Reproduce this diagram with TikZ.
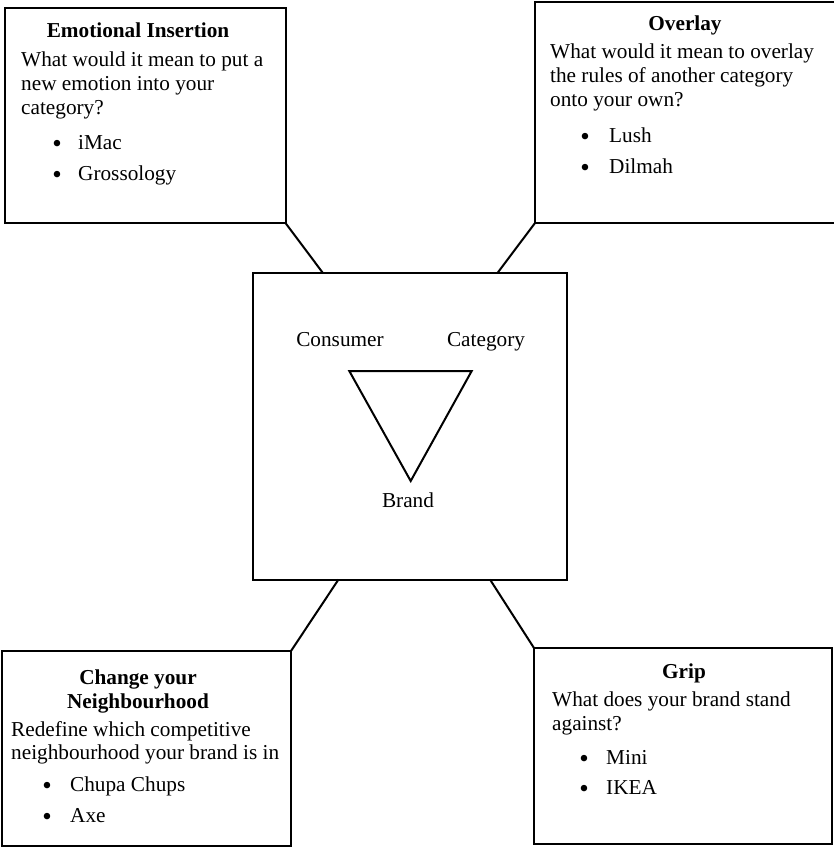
\documentclass[tikz,border=0pt]{standalone}
\usepackage{fontspec}
\setmainfont{Liberation Serif}
\begin{document}
\begin{tikzpicture}[x=1pt, y=-1pt,
  panel/.style={draw, line width=2pt, rectangle, inner sep=0pt, outer sep=0pt},
  link/.style={line width=2pt},
  txt/.style={inner sep=0pt, anchor=base west, font=\fontsize{21.25}{24}\selectfont},
  head/.style={inner sep=0pt, anchor=base, font=\fontsize{21.25}{24}\selectfont\bfseries},
  label/.style={inner sep=0pt, anchor=base, font=\fontsize{21.25}{24}\selectfont},
  bul/.style={inner sep=0pt, anchor=base, font=\fontsize{27}{24}\selectfont}]
\useasboundingbox (0,0) rectangle (834,847);

% central square and the four strategy panels
\node[panel, minimum width=314pt, minimum height=306.8pt] (c) at (410,426.1) {};
\node[panel, minimum width=280.5pt, minimum height=215pt] (tl) at (145.25,115.5) {};
\node[panel, minimum width=300.5pt, minimum height=221.3pt] (tr) at (685.25,112.35) {};
\node[panel, minimum width=289.5pt, minimum height=194.5pt] (bl) at (146.25,748.25) {};
\node[panel, minimum width=298pt, minimum height=196pt] (br) at (683,746) {};

% attachment points on the central square
\coordinate (ctl) at (322.7,272.7);
\coordinate (ctr) at (497.7,272.7);
\coordinate (cbl) at (338.5,579.5);
\coordinate (cbr) at (490,579.5);

\draw[link] (tl.south east) -- (ctl);
\draw[link] (tr.south west) -- (ctr);
\draw[link] (bl.north east) -- (cbl);
\draw[link] (br.north west) -- (cbr);

% brand triangle
\coordinate (t1) at (349.3,371);
\coordinate (t2) at (471.7,371);
\coordinate (t3) at (410.7,481);
\draw[link, line join=miter] (t1) -- (t2) -- (t3) -- cycle;
\node[label] (consumer) at (340,346) {Consumer};
\node[label] (category) at (486,346) {Category};
\node[label] (brand) at (408,507) {Brand};

% Emotional Insertion
\node[head] (tlh) at (138,37) {Emotional Insertion};
\node[txt] (tl1) at (21,66) {What would it mean to put a};
\node[txt] (tl2) at (21,90) {new emotion into your};
\node[txt] (tl3) at (21,114) {category?};
\node[bul] (tlb1) at (57,152) {\textbullet};
\node[txt] (tli1) at (78,149) {iMac};
\node[bul] (tlb2) at (57,183) {\textbullet};
\node[txt] (tli2) at (78,180) {Grossology};

% Overlay
\node[head] (trh) at (685,30.5) {Overlay};
\node[txt] (tr1) at (550,58.5) {What would it mean to overlay};
\node[txt] (tr2) at (550,82.5) {the rules of another category};
\node[txt] (tr3) at (550,106.5) {onto your own?};
\node[bul] (trb1) at (585,145) {\textbullet};
\node[txt] (tri1) at (609,142) {Lush};
\node[bul] (trb2) at (585,176) {\textbullet};
\node[txt] (tri2) at (609,173) {Dilmah};

% Change your Neighbourhood
\node[head] (blh1) at (138,684) {Change your};
\node[head] (blh2) at (138,708) {Neighbourhood};
\node[txt] (bl1) at (11,736) {Redefine which competitive};
\node[txt] (bl2) at (11,759.5) {neighbourhood your brand is in};
\node[bul] (blb1) at (47,794) {\textbullet};
\node[txt] (bli1) at (70,791) {Chupa Chups};
\node[bul] (blb2) at (47,825) {\textbullet};
\node[txt] (bli2) at (70,822) {Axe};

% Grip
\node[head] (brh) at (684,678) {Grip};
\node[txt] (br1) at (552,706) {What does your brand stand};
\node[txt] (br2) at (552,730) {against?};
\node[bul] (brb1) at (584,767) {\textbullet};
\node[txt] (bri1) at (606,764) {Mini};
\node[bul] (brb2) at (584,797) {\textbullet};
\node[txt] (bri2) at (606,794) {IKEA};
\end{tikzpicture}
\end{document}
